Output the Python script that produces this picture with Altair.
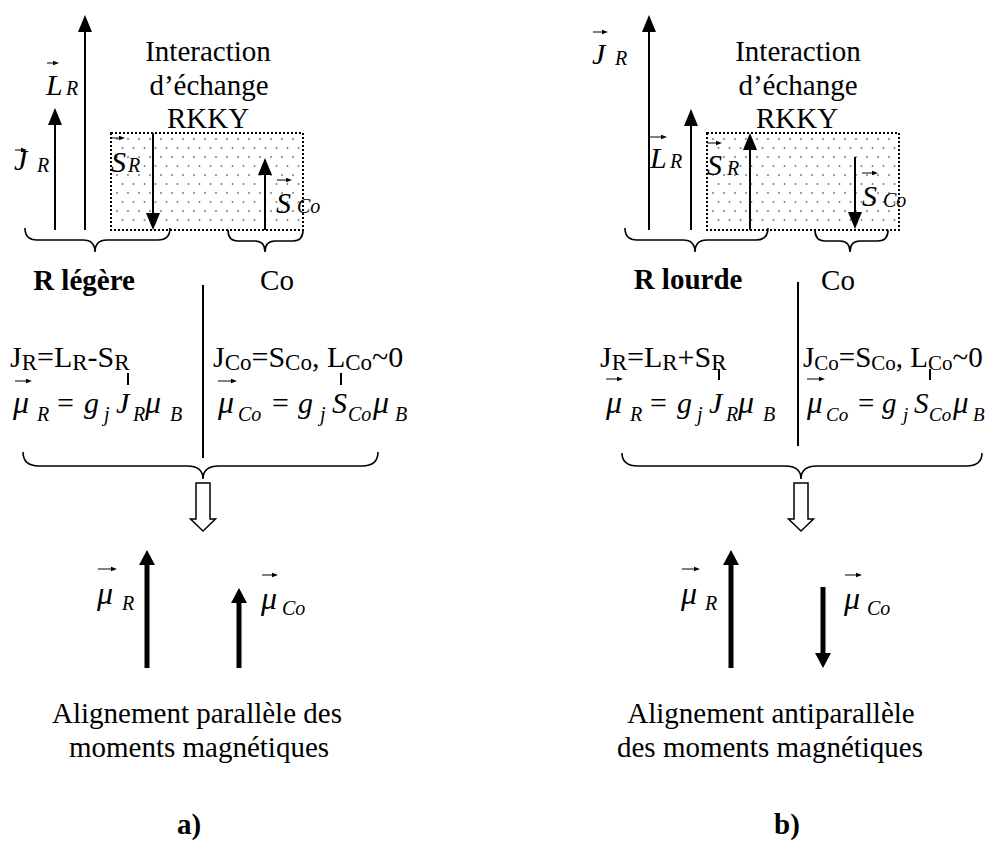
import altair as alt
import pandas as pd

FONT = "Liberation Serif"
W, H = 982, 832
XD = [8, 990]
YD = [8, 840]

# ---------------- layout data (pixel positions) ----------------
# thin vector arrows (J_R, L_R, S_R, S_Co for panels a and b)
thin_x    = [55, 85, 153, 265, 649, 691, 750, 855]
thin_tail = [230, 230, 133, 230, 230, 230, 230, 157]
thin_tip  = [108, 15, 230, 158, 15, 109, 133, 229]

# thick resulting moments (mu_R, mu_Co)
thick_x    = [147, 239, 731, 823]
thick_tail = [668, 668, 668, 587]
thick_tip  = [550, 588, 550, 668]

# dotted RKKY boxes
box_x0 = [111, 707]
box_x1 = [303, 899]
box_y0 = [133, 133]
box_y1 = [230, 230]

# braces: left, right, tip x, top y, mid y, tip y, corner radius
brace_x0 = [25, 228, 625, 815, 23, 622]
brace_x1 = [170, 303, 768, 888, 378, 982]
brace_tx = [95, 265, 695, 850, 203, 801]
brace_yt = [228, 230, 228, 230, 452, 453]
brace_ym = [240, 241, 240, 241, 466, 466]
brace_ty = [252, 252, 252, 252, 479, 479]
brace_c  = [12, 10, 12, 10, 16, 16]

# hollow down arrows
hollow_x = [203, 801]
hollow_tip = [531, 531]

# vertical separators
sep_x = [203, 798]
sep_y0 = [285, 282]
sep_y1 = [458, 446]

# small tick marks under equations
tick_x = [128, 341, 719, 930]
tick_y0 = [373, 373, 369, 369]
tick_y1 = [385, 385, 380, 380]

# over-arrows (vector notation): x start, x end, y
oa_x1 = [15, 47, 112, 277, 15, 218, 98, 262, 593, 650, 707, 862, 606, 807, 682, 845]
oa_x2 = [27, 59, 125, 292, 32, 237, 117, 278, 608, 667, 722, 878, 623, 825, 700, 862]
oa_y  = [150, 63, 138, 180, 381, 381, 569, 575, 32, 137, 143, 173, 379, 379, 569, 575]

# italic labels: text, x, baseline, size
lab_t = ["J", "R", "L", "R", "S", "R", "S", "Co",
         "J", "R", "L", "R", "S", "R", "S", "Co",
         "μ", "R", "μ", "Co", "μ", "R", "μ", "Co"]
lab_x = [14, 37, 46, 66, 111, 128, 276, 297,
         592, 615, 650, 670, 707, 727, 862, 883,
         97, 122, 261, 282, 681, 705, 844, 867]
lab_y = [170, 172, 95, 95, 172, 172, 213, 213,
         64, 65, 168, 168, 175, 175, 206, 207,
         604, 610, 609, 615, 604, 610, 609, 615]
lab_s = [30, 20, 30, 20, 30, 20, 30, 20,
         30, 20, 30, 20, 30, 20, 30, 20,
         32, 20, 32, 20, 32, 20, 32, 20]

# first equation lines (upright): start x, main size, sub size, pieces
eq1_start_x = [10, 213, 600, 803]
eq1_main = [30, 30, 30, 29]
eq1_subs = [23, 23, 23, 21]
eq1_pieces = [
    [("J", 0), ("R", 1), ("=L", 0), ("R", 1), ("-S", 0), ("R", 1)],
    [("J", 0), ("Co", 1), ("=S", 0), ("Co", 1), (", L", 0), ("Co", 1), ("~0", 0)],
    [("J", 0), ("R", 1), ("=L", 0), ("R", 1), ("+S", 0), ("R", 1)],
    [("J", 0), ("Co", 1), ("=S", 0), ("Co", 1), (", L", 0), ("Co", 1), ("~0", 0)],
]
eq1_base = 367
TIMES_W = {"J": 389, "R": 667, "=": 564, "L": 611, "-": 333, "S": 556, "+": 564,
           "C": 667, "o": 500, ",": 250, " ": 250, "~": 541, "0": 500}

# second equation lines: italic pieces, x positions, subscript flag
eq2_t   = ["μ", "R", "g", "j", "J", "R", "μ", "B"]
eq2_xa  = [13, 37, 84, 104, 116, 133, 145, 170]
eq2_xb  = [606, 630, 677, 697, 709, 726, 738, 763]
eq2c_t  = ["μ", "Co", "g", "j", "S", "Co", "μ", "B"]
eq2c_xa = [218, 238, 298, 320, 332, 348, 373, 395]
eq2c_xb = [807, 826, 882, 903, 914, 929, 953, 973]
eq2_sub = [0, 1, 0, 1, 0, 1, 0, 1]
eq2_eq_x = [57, 272, 650, 858]
eq2_base = 413

# centred texts
ctr_t = ["Interaction", "d’échange", "RKKY", "Interaction", "d’échange", "RKKY",
         "Co", "Co",
         "Alignement parallèle des", "moments magnétiques",
         "Alignement antiparallèle", "des moments magnétiques"]
ctr_x = [208, 209, 208, 798, 798, 797, 277, 838, 197, 199, 771, 770]
ctr_y = [61, 95, 128, 61, 95, 128, 290, 290, 723, 757, 723, 757]

bold_t = ["R légère", "R lourde", "a)", "b)"]
bold_x = [84, 688, 189, 787]
bold_y = [290, 289, 834, 834]

# ---------------- helpers ----------------
def X(f="x"):
    return alt.X(f"{f}:Q", scale=alt.Scale(domain=XD, nice=False, zero=False), axis=None)

def Y(f="y"):
    return alt.Y(f"{f}:Q", scale=alt.Scale(domain=YD, nice=False, zero=False, reverse=True), axis=None)

def rules(x1, y1, x2, y2, width, color="black", dash=None):
    df = pd.DataFrame({"x": x1, "y": y1, "x2": x2, "y2": y2})
    kw = dict(color=color, strokeWidth=width, strokeCap="butt")
    if dash:
        kw["strokeDash"] = dash
    return alt.Chart(df).mark_rule(**kw).encode(
        x=X(), y=Y(), x2=alt.X2("x2:Q"), y2=alt.Y2("y2:Q"))

def symbol(xs, ys, path, fill="black", stroke=None, sw=0):
    df = pd.DataFrame({"x": xs, "y": ys})
    kw = dict(shape=path, size=4, filled=True, fill=fill, opacity=1, fillOpacity=1)
    if stroke:
        kw.update(stroke=stroke, strokeWidth=sw, strokeOpacity=1)
    else:
        kw.update(strokeWidth=0)
    return alt.Chart(df).mark_point(**kw).encode(x=X(), y=Y())

def texts(t, x, y, s, align="left", style="normal", weight="normal"):
    df = pd.DataFrame({"t": t, "x": x, "y": y, "s": s})
    return alt.Chart(df).mark_text(align=align, baseline="alphabetic", font=FONT,
                                   fontStyle=style, fontWeight=weight, color="black").encode(
        x=X(), y=Y(), text=alt.Text("t:N"), size=alt.Size("s:Q", scale=None))

layers = []

# boxes
box_df = pd.DataFrame({"x": box_x0, "x2": box_x1, "y": box_y0, "y2": box_y1})
layers.append(alt.Chart(box_df).mark_rect(fill="white", stroke="black", strokeWidth=2,
                                          strokeDash=[2, 2]).encode(
    x=X(), x2=alt.X2("x2:Q"), y=Y(), y2=alt.Y2("y2:Q")))

# dot texture inside boxes
dx, dy = [], []
for bx0, bx1, by0, by1 in zip(box_x0, box_x1, box_y0, box_y1):
    row = 0
    yy = by0 + 6
    while yy < by1 - 3:
        xx = bx0 + 6 + (5.5 if row % 2 else 0)
        while xx < bx1 - 3:
            dx.append(xx)
            dy.append(yy)
            xx += 11
        yy += 9
        row += 1
layers.append(alt.Chart(pd.DataFrame({"x": dx, "y": dy})).mark_square(
    size=2.2, color="#555555", opacity=1).encode(x=X(), y=Y()))

# thin arrows
UP = "M0,0L-7,17L7,17Z"
DOWN = "M0,0L-7,-17L7,-17Z"
shaft_end = [tp + (8 if tp < tl else -8) for tl, tp in zip(thin_tail, thin_tip)]
layers.append(rules(thin_x, thin_tail, thin_x, shaft_end, 2))
ux = [x for x, tl, tp in zip(thin_x, thin_tail, thin_tip) if tp < tl]
uy = [tp for tl, tp in zip(thin_tail, thin_tip) if tp < tl]
dxs = [x for x, tl, tp in zip(thin_x, thin_tail, thin_tip) if tp > tl]
dys = [tp for tl, tp in zip(thin_tail, thin_tip) if tp > tl]
layers.append(symbol(ux, uy, UP))
layers.append(symbol(dxs, dys, DOWN))

# thick arrows
TUP = "M0,0L-8,15L8,15Z"
TDOWN = "M0,0L-8,-15L8,-15Z"
tshaft_end = [tp + (8 if tp < tl else -8) for tl, tp in zip(thick_tail, thick_tip)]
layers.append(rules(thick_x, thick_tail, thick_x, tshaft_end, 5))
tux = [x for x, tl, tp in zip(thick_x, thick_tail, thick_tip) if tp < tl]
tuy = [tp for tl, tp in zip(thick_tail, thick_tip) if tp < tl]
tdx = [x for x, tl, tp in zip(thick_x, thick_tail, thick_tip) if tp > tl]
tdy = [tp for tl, tp in zip(thick_tail, thick_tip) if tp > tl]
layers.append(symbol(tux, tuy, TUP))
layers.append(symbol(tdx, tdy, TDOWN))

# braces
for x0, x1, tx, yt, ym, ty, c in zip(brace_x0, brace_x1, brace_tx, brace_yt, brace_ym, brace_ty, brace_c):
    a, b, t, m = x0 - tx, x1 - tx, yt - ty, ym - ty
    path = (f"M{a},{t}Q{a},{m},{a + c},{m}L{-c},{m}Q0,{m},0,0"
            f"M0,0Q0,{m},{c},{m}L{b - c},{m}Q{b},{m},{b},{t}")
    layers.append(alt.Chart(pd.DataFrame({"x": [tx], "y": [ty]})).mark_point(
        shape=path, size=4, filled=False, color="black", stroke="black",
        strokeWidth=1.6, opacity=1).encode(x=X(), y=Y()))

# hollow arrows
HOLLOW = "M-7,-48L7,-48L7,-12L12.5,-12L0,0L-12.5,-12L-7,-12Z"
layers.append(symbol(hollow_x, hollow_tip, HOLLOW, fill="white", stroke="black", sw=1.5))

# separators and ticks
layers.append(rules(sep_x, sep_y0, sep_x, sep_y1, 2))
layers.append(rules(tick_x, tick_y0, tick_x, tick_y1, 2))

# over-arrows
layers.append(rules(oa_x1, oa_y, [v - 3 for v in oa_x2], oa_y, 1))
layers.append(symbol(oa_x2, oa_y, "M0,0L-6,-2.2L-6,2.2Z"))

# italic labels
layers.append(texts(lab_t, lab_x, lab_y, lab_s, style="italic"))

# first equation lines
e1_t, e1_x, e1_y, e1_s = [], [], [], []
for x0, mn, sbz, pieces in zip(eq1_start_x, eq1_main, eq1_subs, eq1_pieces):
    cx = x0
    for txt, is_sub in pieces:
        sz = sbz if is_sub else mn
        e1_t.append(txt)
        e1_x.append(cx)
        e1_y.append(eq1_base + (3 if is_sub else 0))
        e1_s.append(sz)
        cx += sum(TIMES_W[ch] for ch in txt) / 1000 * sz
layers.append(texts(e1_t, e1_x, e1_y, e1_s))

# second equation lines
e2_t, e2_x, e2_y, e2_s = [], [], [], []
for tl, xl, small in [(eq2_t, eq2_xa, False), (eq2c_t, eq2c_xa, False),
                      (eq2_t, eq2_xb, False), (eq2c_t, eq2c_xb, True)]:
    for t, x, sb in zip(tl, xl, eq2_sub):
        e2_t.append(t)
        e2_x.append(x)
        e2_y.append(eq2_base + (8 if sb else 0))
        if sb:
            e2_s.append(19 if small else 20)
        else:
            e2_s.append((31 if small else 32) if t == "μ" else (29 if small else 30))
layers.append(texts(e2_t, e2_x, e2_y, e2_s, style="italic"))
layers.append(texts(["="] * 4, eq2_eq_x, [eq2_base] * 4, [30, 30, 30, 29]))

# centred texts
layers.append(texts(ctr_t, ctr_x, ctr_y, [29] * len(ctr_t), align="center"))
layers.append(texts(bold_t, bold_x, bold_y, [29] * len(bold_t), align="center", weight="bold"))

chart = alt.layer(*layers).properties(
    width=W, height=H, padding=0, autosize=alt.AutoSizeParams(type="none"),
    background="white"
).configure_view(stroke=None)

chart.save("out.html", embed_options={"renderer": "svg", "actions": False})
